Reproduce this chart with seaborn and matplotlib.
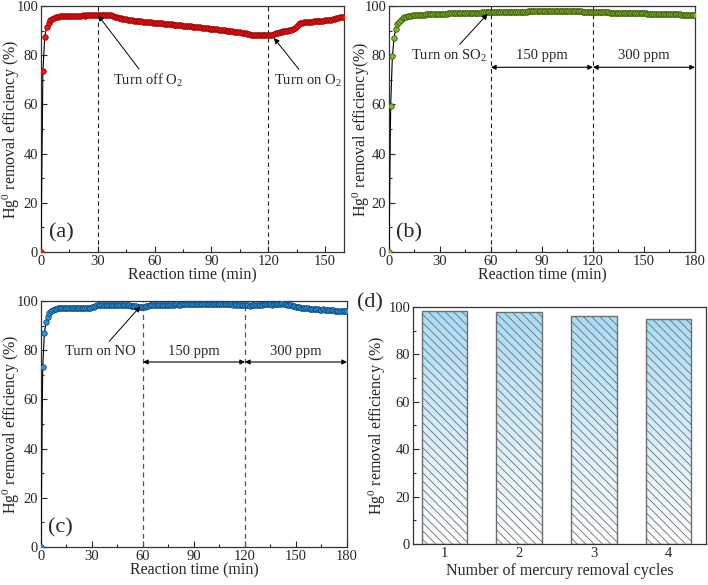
import numpy as np
import matplotlib
matplotlib.use("Agg")
import matplotlib.pyplot as plt
import seaborn as sns
from matplotlib.ticker import MultipleLocator, AutoMinorLocator
from matplotlib.colors import LinearSegmentedColormap

# ---- data ----
time_a = list(range(0, 161))
eff_a = [0.0, 73.5, 87.5, 91.5, 93.3, 94.3, 94.9, 95.3, 95.5, 95.7, 95.8,
         95.9, 95.9, 96.0, 96.0, 96.0, 96.1, 96.0, 96.1, 96.1, 96.1,
         96.1, 96.2, 96.1, 96.2, 96.2, 96.2, 96.3, 96.2, 96.3, 96.3,
         96.3, 96.3, 96.4, 96.3, 96.4, 96.3, 96.2, 95.9, 95.6, 95.4,
         95.2, 95.0, 94.9, 94.7, 94.6, 94.4, 94.3, 94.2, 94.1, 94.0,
         93.9, 93.8, 93.8, 93.7, 93.6, 93.5, 93.5, 93.4, 93.3, 93.2,
         93.1, 93.1, 93.0, 92.9, 92.8, 92.7, 92.7, 92.6, 92.5, 92.4,
         92.3, 92.3, 92.2, 92.1, 92.0, 91.9, 91.9, 91.8, 91.7, 91.6,
         91.5, 91.5, 91.4, 91.3, 91.2, 91.1, 91.0, 90.9, 90.8, 90.7,
         90.6, 90.5, 90.5, 90.4, 90.3, 90.2, 90.1, 90.0, 89.9, 89.8,
         89.7, 89.6, 89.5, 89.4, 89.3, 89.2, 89.0, 88.9, 88.7, 88.6,
         88.4, 88.3, 88.2, 88.2, 88.1, 88.1, 88.2, 88.1, 88.2, 88.2,
         88.3, 88.4, 88.6, 88.9, 89.2, 89.4, 89.6, 89.8, 89.9, 90.0,
         90.1, 90.2, 90.5, 91.0, 91.8, 92.5, 93.0, 93.3, 93.5, 93.6,
         93.6, 93.7, 93.7, 93.8, 93.8, 93.9, 94.0, 94.0, 94.1, 94.2,
         94.3, 94.4, 94.5, 94.7, 94.9, 95.1, 95.3, 95.5, 95.6, 95.6]

time_b = list(range(0, 181))
eff_b = [0.0, 59.5, 79.5, 87.0, 90.8, 92.6, 93.7, 94.5, 95.0, 95.4, 95.7,
         95.9, 96.0, 96.1, 96.2, 96.3, 96.3, 96.4, 96.4, 96.5, 96.5,
         96.5, 96.6, 96.6, 96.6, 96.7, 96.7, 96.7, 96.8, 96.8, 96.8,
         96.9, 96.9, 96.9, 96.9, 97.0, 97.0, 97.0, 97.0, 97.1, 97.1,
         97.1, 97.1, 97.1, 97.2, 97.2, 97.2, 97.2, 97.2, 97.3, 97.3,
         97.3, 97.3, 97.3, 97.3, 97.4, 97.4, 97.4, 97.4, 97.4, 97.4,
         97.5, 97.5, 97.5, 97.5, 97.5, 97.5, 97.6, 97.6, 97.6, 97.6,
         97.6, 97.6, 97.6, 97.7, 97.7, 97.7, 97.7, 97.7, 97.7, 97.7,
         97.7, 97.8, 97.8, 97.8, 97.8, 97.8, 97.8, 97.8, 97.8, 97.8,
         97.8, 97.8, 97.9, 97.9, 97.9, 97.9, 97.9, 97.9, 97.9, 97.9,
         97.9, 97.9, 98.0, 98.0, 98.0, 97.9, 97.9, 97.9, 97.9, 97.8,
         97.8, 97.8, 97.8, 97.7, 97.7, 97.7, 97.7, 97.6, 97.6, 97.6,
         97.6, 97.5, 97.5, 97.5, 97.5, 97.4, 97.4, 97.4, 97.4, 97.3,
         97.3, 97.3, 97.3, 97.3, 97.2, 97.2, 97.2, 97.2, 97.2, 97.1,
         97.1, 97.1, 97.1, 97.1, 97.1, 97.0, 97.0, 97.0, 97.0, 97.0,
         97.0, 96.9, 96.9, 96.9, 96.9, 96.9, 96.8, 96.8, 96.8, 96.8,
         96.8, 96.8, 96.7, 96.7, 96.7, 96.7, 96.6, 96.6, 96.6, 96.6,
         96.6, 96.5, 96.5, 96.5, 96.5, 96.5, 96.4, 96.4, 96.4, 96.4]

time_c = list(range(0, 181))
eff_c = [0.0, 73.0, 87.0, 91.6, 93.6, 95.0, 95.9, 96.4, 96.7, 96.9, 97.0,
         97.0, 97.1, 97.1, 97.1, 97.0, 97.1, 97.1, 97.2, 97.1, 97.1,
         97.0, 97.0, 97.1, 97.1, 97.0, 97.1, 97.0, 97.1, 97.2, 97.4,
         97.7, 98.0, 98.2, 98.3, 98.4, 98.4, 98.5, 98.4, 98.4, 98.5,
         98.4, 98.4, 98.3, 98.4, 98.3, 98.4, 98.3, 98.3, 98.4, 98.3,
         98.2, 98.2, 98.1, 98.0, 97.9, 97.8, 97.7, 97.7, 97.6, 97.6,
         97.7, 97.9, 98.1, 98.3, 98.4, 98.4, 98.5, 98.4, 98.5, 98.4,
         98.4, 98.5, 98.4, 98.5, 98.5, 98.4, 98.5, 98.5, 98.6, 98.6,
         98.5, 98.5, 98.6, 98.6, 98.7, 98.6, 98.7, 98.8, 98.7, 98.8,
         98.8, 98.9, 98.8, 98.7, 98.8, 98.7, 98.8, 98.8, 98.7, 98.7,
         98.6, 98.7, 98.7, 98.8, 98.7, 98.7, 98.8, 98.9, 98.8, 98.7,
         98.7, 98.6, 98.5, 98.6, 98.5, 98.4, 98.3, 98.3, 98.2, 98.3,
         98.2, 98.2, 98.1, 98.2, 98.3, 98.2, 98.2, 98.3, 98.4, 98.5,
         98.6, 98.7, 98.8, 98.7, 98.6, 98.5, 98.6, 98.7, 98.8, 98.9,
         98.9, 99.0, 98.9, 98.7, 98.5, 98.3, 98.2, 98.0, 97.8, 97.7,
         97.5, 97.4, 97.3, 97.2, 97.1, 97.1, 97.0, 96.9, 96.9, 96.8,
         96.7, 96.6, 96.6, 96.5, 96.5, 96.6, 96.5, 96.4, 96.3, 96.3,
         96.2, 96.2, 96.1, 96.1, 96.1, 96.0, 96.0, 96.0, 96.0, 96.0]

cycles = ["1", "2", "3", "4"]
eff_cycles = [98.2, 97.7, 96.2, 95.0]

# ---- style ----
sns.set_style("ticks")
plt.rcParams["font.family"] = ["Liberation Serif", "DejaVu Serif"]
plt.rcParams["mathtext.fontset"] = "custom"
plt.rcParams["mathtext.rm"] = "Liberation Serif"
plt.rcParams["mathtext.it"] = "Liberation Serif:italic"
plt.rcParams["hatch.linewidth"] = 0.6

YLAB = "Hg$^\\mathregular{0}$ removal efficiency (%)"
TICK_FS = 10.5
LAB_FS = 11.5
ANN_FS = 10.5

fig = plt.figure(figsize=(7.08, 5.85), dpi=100)
ax_a = fig.add_axes([0.0579, 0.5692, 0.428, 0.4205])
ax_b = fig.add_axes([0.5494, 0.5692, 0.4322, 0.4205])
ax_c = fig.add_axes([0.0579, 0.0650, 0.4322, 0.4205])
ax_d = fig.add_axes([0.5833, 0.0701, 0.4138, 0.4051])


def style_axis(ax, xmax=None):
    ax.tick_params(which="both", direction="in", labelsize=TICK_FS, pad=2)
    ax.tick_params(which="major", length=4, width=0.8)
    ax.tick_params(which="minor", length=2, width=0.8)
    for s in ax.spines.values():
        s.set_linewidth(0.9)
        s.set_color("#333333")
    ax.set_ylim(0, 100)
    ax.yaxis.set_major_locator(MultipleLocator(20))
    ax.yaxis.set_minor_locator(AutoMinorLocator(2))
    if xmax is not None:
        ax.set_xlim(0, xmax)
        ax.xaxis.set_major_locator(MultipleLocator(30))
        ax.xaxis.set_minor_locator(AutoMinorLocator(2))
        ax.set_xlabel("Reaction time (min)", fontsize=LAB_FS, labelpad=0)


def curve(ax, t, y, fc, ec):
    sns.lineplot(x=t, y=y, ax=ax, color="black", lw=0.8, marker="o",
                 markersize=4, markerfacecolor=fc, markeredgecolor=ec,
                 markeredgewidth=0.5, zorder=3)


arrow = dict(arrowstyle="-|>", color="black", lw=0.7, mutation_scale=8,
             shrinkA=0, shrinkB=0)
darrow = dict(arrowstyle="<|-|>", color="black", lw=0.8, mutation_scale=7,
              shrinkA=0, shrinkB=0)

# (a)
curve(ax_a, time_a, eff_a, "#ff1010", "#7a0000")
style_axis(ax_a, 160)
for xv in (30, 120):
    ax_a.axvline(xv, color="#222222", ls=(0, (4, 3)), lw=0.8, zorder=1)
ax_a.set_ylabel(YLAB, fontsize=LAB_FS)
ax_a.yaxis.set_label_coords(-0.063, 0.5)
ax_a.annotate("Turn off O$_\\mathregular{2}$", xy=(30.2, 96.2), xytext=(56.5, 69.6),
              ha="center", va="center", fontsize=ANN_FS, arrowprops=arrow)
ax_a.annotate("Turn on O$_\\mathregular{2}$", xy=(123, 87), xytext=(141, 69.6),
              ha="center", va="center", fontsize=ANN_FS, arrowprops=arrow)
ax_a.text(4, 6, "(a)", fontsize=16)

# (b)
curve(ax_b, time_b, eff_b, "#7fb623", "#2f4a08")
style_axis(ax_b, 180)
for xv in (60, 120):
    ax_b.axvline(xv, color="#222222", ls=(0, (4, 3)), lw=0.8, zorder=1)
ax_b.set_ylabel("Hg$^\\mathregular{0}$ removal efficiency(%)", fontsize=LAB_FS)
ax_b.yaxis.set_label_coords(-0.056, 0.5)
ax_b.annotate("Turn on SO$_\\mathregular{2}$", xy=(58, 96.8), xytext=(35.5, 79.8),
              ha="center", va="center", fontsize=ANN_FS, arrowprops=arrow)
for x0, x1, lab in ((60, 120, "150 ppm"), (120, 180, "300 ppm")):
    ax_b.annotate("", xy=(x1, 75.1), xytext=(x0, 75.1), arrowprops=darrow)
    ax_b.text((x0 + x1) / 2, 79.8, lab, ha="center", va="center", fontsize=ANN_FS)
ax_b.text(4, 6, "(b)", fontsize=16)

# (c)
curve(ax_c, time_c, eff_c, "#2196e3", "#0d3a66")
style_axis(ax_c, 180)
for xv in (60, 120):
    ax_c.axvline(xv, color="#555555", ls=(0, (4, 3)), lw=0.9, zorder=1)
ax_c.set_ylabel(YLAB, fontsize=LAB_FS)
ax_c.yaxis.set_label_coords(-0.062, 0.5)
ax_c.annotate("Turn on NO", xy=(58.4, 97.8), xytext=(35, 79.6),
              ha="center", va="center", fontsize=ANN_FS, arrowprops=arrow)
for x0, x1, lab in ((60, 120, "150 ppm"), (120, 180, "300 ppm")):
    ax_c.annotate("", xy=(x1, 75.2), xytext=(x0, 75.2), arrowprops=darrow)
    ax_c.text((x0 + x1) / 2, 79.5, lab, ha="center", va="center", fontsize=ANN_FS)
ax_c.text(4, 6, "(c)", fontsize=16)

# (d) gradient hatched bars
sns.barplot(x=cycles, y=eff_cycles, ax=ax_d, color="white", width=0.61,
            edgecolor="#6e6e6e", linewidth=1.0, hatch="\\\\\\\\", zorder=3)
grad = np.linspace(0, 1, 256).reshape(-1, 1)
cmap = LinearSegmentedColormap.from_list("bluewhite", ["#ffffff", "#a9dcf6"])
for p in ax_d.patches:
    p.set_facecolor("none")
    x0, y0 = p.get_x(), p.get_y()
    im = ax_d.imshow(grad, extent=(x0, x0 + p.get_width(), y0, y0 + p.get_height()),
                     origin="lower", cmap=cmap, aspect="auto", zorder=2)
    im.set_clip_path(p)
style_axis(ax_d)
ax_d.set_xlim(-0.42, 3.5)
ax_d.tick_params(axis="x", which="both", length=0)
ax_d.set_xlabel("Number of mercury removal cycles", fontsize=LAB_FS, labelpad=2)
ax_d.set_ylabel(YLAB, fontsize=LAB_FS)
ax_d.yaxis.set_label_coords(-0.085, 0.5)
fig.text(0.5226, 0.482, "(d)", fontsize=16, ha="center", va="center")

fig.savefig("out.png", dpi=100)
